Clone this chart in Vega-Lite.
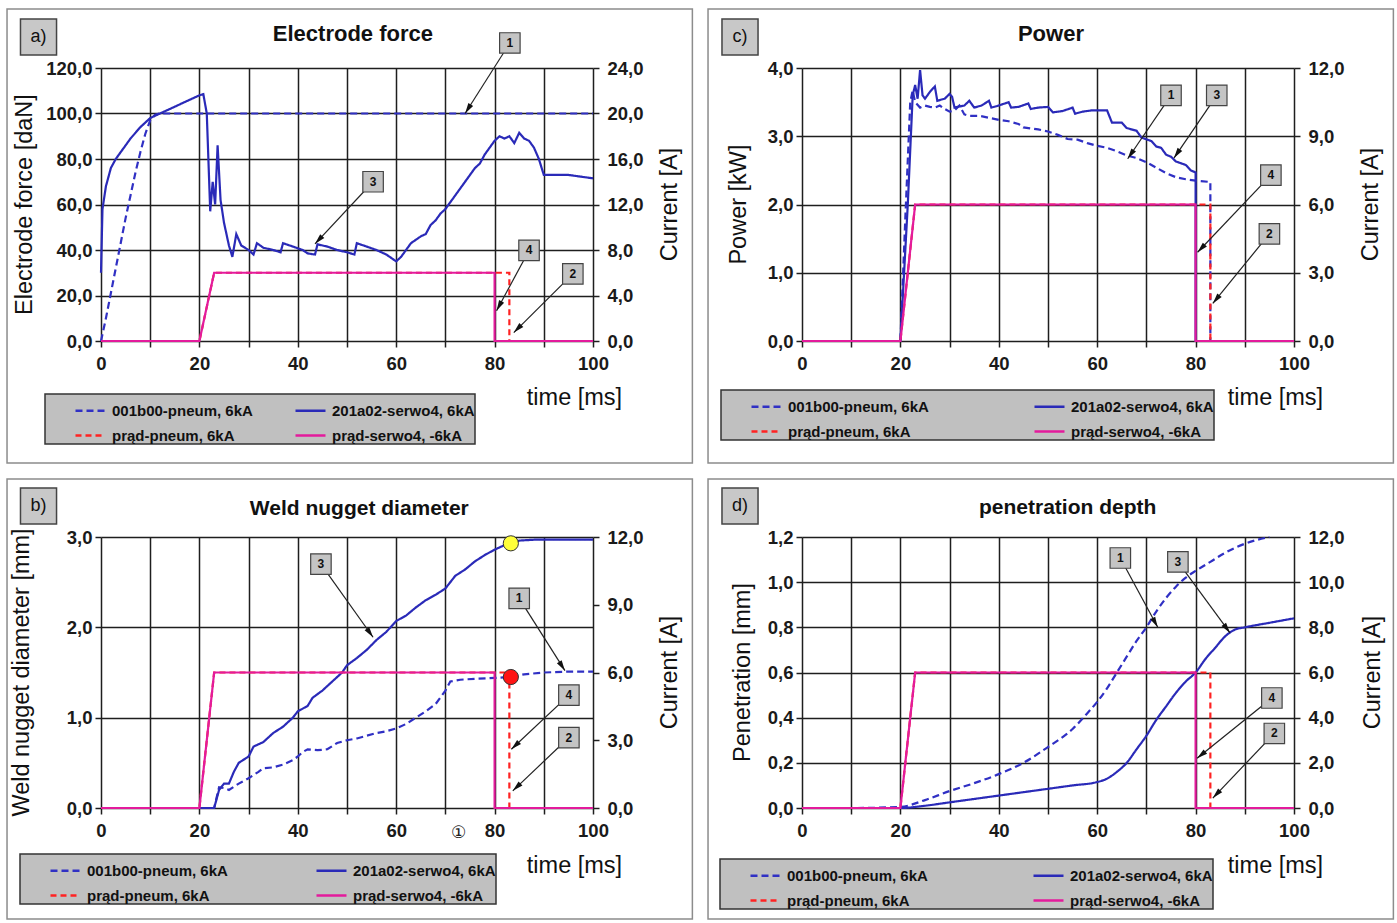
{
"$schema": "https://vega.github.io/schema/vega-lite/v6.json",
"background": "white",
"padding": {"left": 6, "top": 8, "right": 0, "bottom": 0},
"bounds": "flush",
"columns": 2,
"spacing": {"row": 196, "column": 209},
"resolve": {"scale": {"color": "independent", "strokeDash": "independent"}, "legend": {"color": "independent", "strokeDash": "independent"}},
"config": {
  "font": "Liberation Sans, Arial, sans-serif",
  "view": {"stroke": null},
  "axis": {"domain": false, "gridColor": "#1e1e1e", "gridWidth": 1.5, "gridOpacity": 1, "tickColor": "#1e1e1e", "tickSize": 6, "tickWidth": 1.5,
    "labelFontSize": 18.5, "labelFontWeight": "bold", "labelColor": "#1a1a1a", "labelOverlap": false, "labelFlush": false,
    "titleFontSize": 23.5, "titleFontWeight": "normal", "titleColor": "#111"},
  "legend": {"orient": "none", "direction": "horizontal", "columns": 2, "fillColor": "#c0c0c0", "strokeColor": "#333", "strokeWidth": 1.5, "padding": 0,
    "symbolType": "stroke", "symbolSize": 900, "symbolStrokeWidth": 2.5, "symbolOffset": 29,
    "labelFontSize": 15, "labelFontWeight": "bold", "labelColor": "#111", "labelOffset": 5, "labelLimit": 400, "rowPadding": -8}
},
"datasets": {
  "cur": [
    {"s":"prąd-pneum, 6kA","t":0,"v":0},{"s":"prąd-pneum, 6kA","t":20,"v":0},{"s":"prąd-pneum, 6kA","t":23,"v":6},{"s":"prąd-pneum, 6kA","t":83,"v":6},{"s":"prąd-pneum, 6kA","t":83,"v":0},{"s":"prąd-pneum, 6kA","t":100,"v":0},
    {"s":"prąd-serwo4, -6kA","t":0,"v":0},{"s":"prąd-serwo4, -6kA","t":20,"v":0},{"s":"prąd-serwo4, -6kA","t":23,"v":6},{"s":"prąd-serwo4, -6kA","t":80,"v":6},{"s":"prąd-serwo4, -6kA","t":80,"v":0},{"s":"prąd-serwo4, -6kA","t":100,"v":0}
  ],
  "a": [
    {"s":"001b00-pneum, 6kA","t":0,"v":0},{"s":"001b00-pneum, 6kA","t":1,"v":10},{"s":"001b00-pneum, 6kA","t":2,"v":21},{"s":"001b00-pneum, 6kA","t":3,"v":32},{"s":"001b00-pneum, 6kA","t":4,"v":43},{"s":"001b00-pneum, 6kA","t":5,"v":54},{"s":"001b00-pneum, 6kA","t":6,"v":64},{"s":"001b00-pneum, 6kA","t":7,"v":74},{"s":"001b00-pneum, 6kA","t":8,"v":83},{"s":"001b00-pneum, 6kA","t":9,"v":91},{"s":"001b00-pneum, 6kA","t":10,"v":97},{"s":"001b00-pneum, 6kA","t":11,"v":99.5},{"s":"001b00-pneum, 6kA","t":12,"v":100},{"s":"001b00-pneum, 6kA","t":100,"v":100},
    {"s":"201a02-serwo4, 6kA","t":0,"v":30},{"s":"201a02-serwo4, 6kA","t":0.3,"v":58},{"s":"201a02-serwo4, 6kA","t":1,"v":68},{"s":"201a02-serwo4, 6kA","t":2,"v":76},{"s":"201a02-serwo4, 6kA","t":3,"v":80},{"s":"201a02-serwo4, 6kA","t":4,"v":83},{"s":"201a02-serwo4, 6kA","t":5,"v":86},{"s":"201a02-serwo4, 6kA","t":6,"v":89},{"s":"201a02-serwo4, 6kA","t":7,"v":91.5},{"s":"201a02-serwo4, 6kA","t":8,"v":94},{"s":"201a02-serwo4, 6kA","t":9,"v":96},{"s":"201a02-serwo4, 6kA","t":10,"v":98},{"s":"201a02-serwo4, 6kA","t":12,"v":100},{"s":"201a02-serwo4, 6kA","t":14,"v":102},{"s":"201a02-serwo4, 6kA","t":16,"v":104},{"s":"201a02-serwo4, 6kA","t":18,"v":106},{"s":"201a02-serwo4, 6kA","t":20,"v":108},{"s":"201a02-serwo4, 6kA","t":20.8,"v":108.5},{"s":"201a02-serwo4, 6kA","t":21.5,"v":100},{"s":"201a02-serwo4, 6kA","t":22.2,"v":57},{"s":"201a02-serwo4, 6kA","t":22.7,"v":70},{"s":"201a02-serwo4, 6kA","t":23.2,"v":60},{"s":"201a02-serwo4, 6kA","t":23.7,"v":86},{"s":"201a02-serwo4, 6kA","t":24.3,"v":62},{"s":"201a02-serwo4, 6kA","t":25,"v":52},{"s":"201a02-serwo4, 6kA","t":26,"v":42},{"s":"201a02-serwo4, 6kA","t":26.7,"v":37},{"s":"201a02-serwo4, 6kA","t":27.5,"v":47},{"s":"201a02-serwo4, 6kA","t":28.5,"v":42},{"s":"201a02-serwo4, 6kA","t":30,"v":40},{"s":"201a02-serwo4, 6kA","t":31,"v":38},{"s":"201a02-serwo4, 6kA","t":31.7,"v":43},{"s":"201a02-serwo4, 6kA","t":33,"v":41},{"s":"201a02-serwo4, 6kA","t":35,"v":40},{"s":"201a02-serwo4, 6kA","t":36.5,"v":39},{"s":"201a02-serwo4, 6kA","t":37,"v":43},{"s":"201a02-serwo4, 6kA","t":39,"v":41.5},{"s":"201a02-serwo4, 6kA","t":41,"v":40},{"s":"201a02-serwo4, 6kA","t":42,"v":38.5},{"s":"201a02-serwo4, 6kA","t":43.5,"v":38},{"s":"201a02-serwo4, 6kA","t":44,"v":42.5},{"s":"201a02-serwo4, 6kA","t":46,"v":41.5},{"s":"201a02-serwo4, 6kA","t":48,"v":40},{"s":"201a02-serwo4, 6kA","t":50,"v":39},{"s":"201a02-serwo4, 6kA","t":51.5,"v":38},{"s":"201a02-serwo4, 6kA","t":52,"v":43},{"s":"201a02-serwo4, 6kA","t":54,"v":41.5},{"s":"201a02-serwo4, 6kA","t":56,"v":40},{"s":"201a02-serwo4, 6kA","t":58,"v":38},{"s":"201a02-serwo4, 6kA","t":60,"v":35},{"s":"201a02-serwo4, 6kA","t":61,"v":37},{"s":"201a02-serwo4, 6kA","t":62,"v":40},{"s":"201a02-serwo4, 6kA","t":63,"v":43},{"s":"201a02-serwo4, 6kA","t":65,"v":46},{"s":"201a02-serwo4, 6kA","t":66,"v":47},{"s":"201a02-serwo4, 6kA","t":67,"v":51},{"s":"201a02-serwo4, 6kA","t":68,"v":53},{"s":"201a02-serwo4, 6kA","t":69,"v":56},{"s":"201a02-serwo4, 6kA","t":70,"v":58},{"s":"201a02-serwo4, 6kA","t":71,"v":61},{"s":"201a02-serwo4, 6kA","t":72,"v":64},{"s":"201a02-serwo4, 6kA","t":73,"v":67},{"s":"201a02-serwo4, 6kA","t":74,"v":70},{"s":"201a02-serwo4, 6kA","t":75,"v":73},{"s":"201a02-serwo4, 6kA","t":76,"v":76},{"s":"201a02-serwo4, 6kA","t":77,"v":78},{"s":"201a02-serwo4, 6kA","t":78,"v":82},{"s":"201a02-serwo4, 6kA","t":79,"v":85},{"s":"201a02-serwo4, 6kA","t":80,"v":88},{"s":"201a02-serwo4, 6kA","t":81,"v":90},{"s":"201a02-serwo4, 6kA","t":82,"v":89},{"s":"201a02-serwo4, 6kA","t":83,"v":90},{"s":"201a02-serwo4, 6kA","t":84,"v":87},{"s":"201a02-serwo4, 6kA","t":85,"v":91.5},{"s":"201a02-serwo4, 6kA","t":86,"v":89},{"s":"201a02-serwo4, 6kA","t":87,"v":88},{"s":"201a02-serwo4, 6kA","t":88,"v":85},{"s":"201a02-serwo4, 6kA","t":89,"v":80},{"s":"201a02-serwo4, 6kA","t":90,"v":73},{"s":"201a02-serwo4, 6kA","t":95,"v":73},{"s":"201a02-serwo4, 6kA","t":100,"v":71.5}
  ],
  "c": [
    {"s":"001b00-pneum, 6kA","t":0,"v":0},{"s":"001b00-pneum, 6kA","t":20,"v":0},{"s":"001b00-pneum, 6kA","t":21,"v":1.8},{"s":"001b00-pneum, 6kA","t":22,"v":3.5},{"s":"001b00-pneum, 6kA","t":22.5,"v":3.67},{"s":"001b00-pneum, 6kA","t":23,"v":3.5},{"s":"001b00-pneum, 6kA","t":24,"v":3.42},{"s":"001b00-pneum, 6kA","t":25,"v":3.45},{"s":"001b00-pneum, 6kA","t":26,"v":3.43},{"s":"001b00-pneum, 6kA","t":27,"v":3.42},{"s":"001b00-pneum, 6kA","t":28,"v":3.45},{"s":"001b00-pneum, 6kA","t":29,"v":3.4},{"s":"001b00-pneum, 6kA","t":30,"v":3.36},{"s":"001b00-pneum, 6kA","t":31,"v":3.38},{"s":"001b00-pneum, 6kA","t":32,"v":3.45},{"s":"001b00-pneum, 6kA","t":33,"v":3.32},{"s":"001b00-pneum, 6kA","t":34,"v":3.3},{"s":"001b00-pneum, 6kA","t":36,"v":3.3},{"s":"001b00-pneum, 6kA","t":38,"v":3.27},{"s":"001b00-pneum, 6kA","t":40,"v":3.24},{"s":"001b00-pneum, 6kA","t":42,"v":3.22},{"s":"001b00-pneum, 6kA","t":44,"v":3.18},{"s":"001b00-pneum, 6kA","t":45,"v":3.13},{"s":"001b00-pneum, 6kA","t":48,"v":3.1},{"s":"001b00-pneum, 6kA","t":50,"v":3.07},{"s":"001b00-pneum, 6kA","t":52,"v":3.02},{"s":"001b00-pneum, 6kA","t":54,"v":2.96},{"s":"001b00-pneum, 6kA","t":56,"v":2.95},{"s":"001b00-pneum, 6kA","t":58,"v":2.9},{"s":"001b00-pneum, 6kA","t":60,"v":2.86},{"s":"001b00-pneum, 6kA","t":62,"v":2.83},{"s":"001b00-pneum, 6kA","t":64,"v":2.78},{"s":"001b00-pneum, 6kA","t":66,"v":2.72},{"s":"001b00-pneum, 6kA","t":68,"v":2.68},{"s":"001b00-pneum, 6kA","t":70,"v":2.62},{"s":"001b00-pneum, 6kA","t":72,"v":2.54},{"s":"001b00-pneum, 6kA","t":74,"v":2.46},{"s":"001b00-pneum, 6kA","t":76,"v":2.4},{"s":"001b00-pneum, 6kA","t":78,"v":2.37},{"s":"001b00-pneum, 6kA","t":80,"v":2.35},{"s":"001b00-pneum, 6kA","t":83,"v":2.33},{"s":"001b00-pneum, 6kA","t":83,"v":0},{"s":"001b00-pneum, 6kA","t":100,"v":0},
    {"s":"201a02-serwo4, 6kA","t":0,"v":0},{"s":"201a02-serwo4, 6kA","t":20,"v":0},{"s":"201a02-serwo4, 6kA","t":21.5,"v":2.0},{"s":"201a02-serwo4, 6kA","t":22.5,"v":3.6},{"s":"201a02-serwo4, 6kA","t":23,"v":3.75},{"s":"201a02-serwo4, 6kA","t":23.5,"v":3.55},{"s":"201a02-serwo4, 6kA","t":24,"v":3.97},{"s":"201a02-serwo4, 6kA","t":24.5,"v":3.6},{"s":"201a02-serwo4, 6kA","t":25,"v":3.55},{"s":"201a02-serwo4, 6kA","t":26,"v":3.65},{"s":"201a02-serwo4, 6kA","t":27,"v":3.73},{"s":"201a02-serwo4, 6kA","t":27.5,"v":3.52},{"s":"201a02-serwo4, 6kA","t":29,"v":3.55},{"s":"201a02-serwo4, 6kA","t":30,"v":3.62},{"s":"201a02-serwo4, 6kA","t":30.5,"v":3.58},{"s":"201a02-serwo4, 6kA","t":31,"v":3.42},{"s":"201a02-serwo4, 6kA","t":33,"v":3.45},{"s":"201a02-serwo4, 6kA","t":34,"v":3.52},{"s":"201a02-serwo4, 6kA","t":35,"v":3.42},{"s":"201a02-serwo4, 6kA","t":36.5,"v":3.45},{"s":"201a02-serwo4, 6kA","t":38,"v":3.52},{"s":"201a02-serwo4, 6kA","t":38.5,"v":3.42},{"s":"201a02-serwo4, 6kA","t":40,"v":3.45},{"s":"201a02-serwo4, 6kA","t":42,"v":3.5},{"s":"201a02-serwo4, 6kA","t":42.5,"v":3.42},{"s":"201a02-serwo4, 6kA","t":44,"v":3.43},{"s":"201a02-serwo4, 6kA","t":46,"v":3.48},{"s":"201a02-serwo4, 6kA","t":46.5,"v":3.4},{"s":"201a02-serwo4, 6kA","t":48,"v":3.42},{"s":"201a02-serwo4, 6kA","t":50,"v":3.43},{"s":"201a02-serwo4, 6kA","t":51,"v":3.35},{"s":"201a02-serwo4, 6kA","t":53,"v":3.37},{"s":"201a02-serwo4, 6kA","t":55,"v":3.42},{"s":"201a02-serwo4, 6kA","t":55.5,"v":3.33},{"s":"201a02-serwo4, 6kA","t":57,"v":3.36},{"s":"201a02-serwo4, 6kA","t":59,"v":3.38},{"s":"201a02-serwo4, 6kA","t":62,"v":3.38},{"s":"201a02-serwo4, 6kA","t":63,"v":3.2},{"s":"201a02-serwo4, 6kA","t":65,"v":3.2},{"s":"201a02-serwo4, 6kA","t":66,"v":3.12},{"s":"201a02-serwo4, 6kA","t":68,"v":3.08},{"s":"201a02-serwo4, 6kA","t":69,"v":2.98},{"s":"201a02-serwo4, 6kA","t":71,"v":2.93},{"s":"201a02-serwo4, 6kA","t":72,"v":2.85},{"s":"201a02-serwo4, 6kA","t":73,"v":2.83},{"s":"201a02-serwo4, 6kA","t":74,"v":2.73},{"s":"201a02-serwo4, 6kA","t":75,"v":2.7},{"s":"201a02-serwo4, 6kA","t":76,"v":2.63},{"s":"201a02-serwo4, 6kA","t":78,"v":2.58},{"s":"201a02-serwo4, 6kA","t":79,"v":2.5},{"s":"201a02-serwo4, 6kA","t":80,"v":2.47},{"s":"201a02-serwo4, 6kA","t":80,"v":0},{"s":"201a02-serwo4, 6kA","t":100,"v":0}
  ],
  "b": [
    {"s":"001b00-pneum, 6kA","t":0,"v":0},{"s":"001b00-pneum, 6kA","t":23,"v":0},{"s":"001b00-pneum, 6kA","t":24,"v":0.23},{"s":"001b00-pneum, 6kA","t":25,"v":0.22},{"s":"001b00-pneum, 6kA","t":26,"v":0.2},{"s":"001b00-pneum, 6kA","t":28,"v":0.27},{"s":"001b00-pneum, 6kA","t":30,"v":0.33},{"s":"001b00-pneum, 6kA","t":32,"v":0.4},{"s":"001b00-pneum, 6kA","t":33,"v":0.44},{"s":"001b00-pneum, 6kA","t":35,"v":0.45},{"s":"001b00-pneum, 6kA","t":37,"v":0.48},{"s":"001b00-pneum, 6kA","t":39,"v":0.53},{"s":"001b00-pneum, 6kA","t":40,"v":0.57},{"s":"001b00-pneum, 6kA","t":41,"v":0.62},{"s":"001b00-pneum, 6kA","t":42,"v":0.65},{"s":"001b00-pneum, 6kA","t":44,"v":0.64},{"s":"001b00-pneum, 6kA","t":46,"v":0.65},{"s":"001b00-pneum, 6kA","t":48,"v":0.72},{"s":"001b00-pneum, 6kA","t":50,"v":0.75},{"s":"001b00-pneum, 6kA","t":52,"v":0.77},{"s":"001b00-pneum, 6kA","t":54,"v":0.8},{"s":"001b00-pneum, 6kA","t":56,"v":0.83},{"s":"001b00-pneum, 6kA","t":58,"v":0.85},{"s":"001b00-pneum, 6kA","t":60,"v":0.88},{"s":"001b00-pneum, 6kA","t":62,"v":0.93},{"s":"001b00-pneum, 6kA","t":64,"v":1.0},{"s":"001b00-pneum, 6kA","t":66,"v":1.07},{"s":"001b00-pneum, 6kA","t":68,"v":1.15},{"s":"001b00-pneum, 6kA","t":70,"v":1.3},{"s":"001b00-pneum, 6kA","t":71,"v":1.4},{"s":"001b00-pneum, 6kA","t":73,"v":1.42},{"s":"001b00-pneum, 6kA","t":76,"v":1.43},{"s":"001b00-pneum, 6kA","t":80,"v":1.44},{"s":"001b00-pneum, 6kA","t":83.3,"v":1.45},{"s":"001b00-pneum, 6kA","t":86,"v":1.48},{"s":"001b00-pneum, 6kA","t":90,"v":1.5},{"s":"001b00-pneum, 6kA","t":95,"v":1.51},{"s":"001b00-pneum, 6kA","t":100,"v":1.51},
    {"s":"201a02-serwo4, 6kA","t":0,"v":0},{"s":"201a02-serwo4, 6kA","t":23,"v":0},{"s":"201a02-serwo4, 6kA","t":24,"v":0.2},{"s":"201a02-serwo4, 6kA","t":25,"v":0.27},{"s":"201a02-serwo4, 6kA","t":26,"v":0.27},{"s":"201a02-serwo4, 6kA","t":27,"v":0.4},{"s":"201a02-serwo4, 6kA","t":28,"v":0.5},{"s":"201a02-serwo4, 6kA","t":30,"v":0.57},{"s":"201a02-serwo4, 6kA","t":31,"v":0.68},{"s":"201a02-serwo4, 6kA","t":33,"v":0.73},{"s":"201a02-serwo4, 6kA","t":35,"v":0.83},{"s":"201a02-serwo4, 6kA","t":37,"v":0.9},{"s":"201a02-serwo4, 6kA","t":39,"v":1.0},{"s":"201a02-serwo4, 6kA","t":40,"v":1.07},{"s":"201a02-serwo4, 6kA","t":42,"v":1.13},{"s":"201a02-serwo4, 6kA","t":43,"v":1.22},{"s":"201a02-serwo4, 6kA","t":45,"v":1.3},{"s":"201a02-serwo4, 6kA","t":47,"v":1.4},{"s":"201a02-serwo4, 6kA","t":49,"v":1.5},{"s":"201a02-serwo4, 6kA","t":50,"v":1.58},{"s":"201a02-serwo4, 6kA","t":52,"v":1.66},{"s":"201a02-serwo4, 6kA","t":54,"v":1.75},{"s":"201a02-serwo4, 6kA","t":56,"v":1.86},{"s":"201a02-serwo4, 6kA","t":58,"v":1.95},{"s":"201a02-serwo4, 6kA","t":60,"v":2.07},{"s":"201a02-serwo4, 6kA","t":62,"v":2.13},{"s":"201a02-serwo4, 6kA","t":64,"v":2.22},{"s":"201a02-serwo4, 6kA","t":66,"v":2.3},{"s":"201a02-serwo4, 6kA","t":68,"v":2.36},{"s":"201a02-serwo4, 6kA","t":70,"v":2.43},{"s":"201a02-serwo4, 6kA","t":72,"v":2.57},{"s":"201a02-serwo4, 6kA","t":74,"v":2.64},{"s":"201a02-serwo4, 6kA","t":76,"v":2.73},{"s":"201a02-serwo4, 6kA","t":78,"v":2.8},{"s":"201a02-serwo4, 6kA","t":80,"v":2.86},{"s":"201a02-serwo4, 6kA","t":82,"v":2.91},{"s":"201a02-serwo4, 6kA","t":83.3,"v":2.93},{"s":"201a02-serwo4, 6kA","t":85,"v":2.96},{"s":"201a02-serwo4, 6kA","t":88,"v":2.97},{"s":"201a02-serwo4, 6kA","t":100,"v":2.97}
  ],
  "d": [
    {"s":"001b00-pneum, 6kA","t":0,"v":0},{"s":"001b00-pneum, 6kA","t":10,"v":0},{"s":"001b00-pneum, 6kA","t":20,"v":0.005},{"s":"001b00-pneum, 6kA","t":25,"v":0.035},{"s":"001b00-pneum, 6kA","t":30,"v":0.075},{"s":"001b00-pneum, 6kA","t":35,"v":0.11},{"s":"001b00-pneum, 6kA","t":40,"v":0.15},{"s":"001b00-pneum, 6kA","t":45,"v":0.2},{"s":"001b00-pneum, 6kA","t":50,"v":0.27},{"s":"001b00-pneum, 6kA","t":55,"v":0.35},{"s":"001b00-pneum, 6kA","t":58,"v":0.42},{"s":"001b00-pneum, 6kA","t":60,"v":0.47},{"s":"001b00-pneum, 6kA","t":62,"v":0.53},{"s":"001b00-pneum, 6kA","t":64,"v":0.6},{"s":"001b00-pneum, 6kA","t":66,"v":0.67},{"s":"001b00-pneum, 6kA","t":68,"v":0.74},{"s":"001b00-pneum, 6kA","t":70,"v":0.8},{"s":"001b00-pneum, 6kA","t":72,"v":0.87},{"s":"001b00-pneum, 6kA","t":74,"v":0.93},{"s":"001b00-pneum, 6kA","t":76,"v":0.98},{"s":"001b00-pneum, 6kA","t":78,"v":1.02},{"s":"001b00-pneum, 6kA","t":80,"v":1.05},{"s":"001b00-pneum, 6kA","t":83,"v":1.09},{"s":"001b00-pneum, 6kA","t":86,"v":1.13},{"s":"001b00-pneum, 6kA","t":90,"v":1.17},{"s":"001b00-pneum, 6kA","t":95,"v":1.2},
    {"s":"201a02-serwo4, 6kA","t":0,"v":0},{"s":"201a02-serwo4, 6kA","t":20,"v":0},{"s":"201a02-serwo4, 6kA","t":25,"v":0.01},{"s":"201a02-serwo4, 6kA","t":30,"v":0.025},{"s":"201a02-serwo4, 6kA","t":35,"v":0.04},{"s":"201a02-serwo4, 6kA","t":40,"v":0.055},{"s":"201a02-serwo4, 6kA","t":45,"v":0.07},{"s":"201a02-serwo4, 6kA","t":50,"v":0.085},{"s":"201a02-serwo4, 6kA","t":55,"v":0.1},{"s":"201a02-serwo4, 6kA","t":60,"v":0.115},{"s":"201a02-serwo4, 6kA","t":62,"v":0.13},{"s":"201a02-serwo4, 6kA","t":64,"v":0.16},{"s":"201a02-serwo4, 6kA","t":66,"v":0.2},{"s":"201a02-serwo4, 6kA","t":68,"v":0.26},{"s":"201a02-serwo4, 6kA","t":70,"v":0.32},{"s":"201a02-serwo4, 6kA","t":72,"v":0.39},{"s":"201a02-serwo4, 6kA","t":74,"v":0.45},{"s":"201a02-serwo4, 6kA","t":76,"v":0.51},{"s":"201a02-serwo4, 6kA","t":78,"v":0.56},{"s":"201a02-serwo4, 6kA","t":80,"v":0.6},{"s":"201a02-serwo4, 6kA","t":82,"v":0.66},{"s":"201a02-serwo4, 6kA","t":84,"v":0.71},{"s":"201a02-serwo4, 6kA","t":86,"v":0.76},{"s":"201a02-serwo4, 6kA","t":88,"v":0.79},{"s":"201a02-serwo4, 6kA","t":90,"v":0.8},{"s":"201a02-serwo4, 6kA","t":95,"v":0.82},{"s":"201a02-serwo4, 6kA","t":100,"v":0.84}
  ],
  "callouts": [
    {"p":"a","n":"1","bx":83.1,"by":131,"tx":74,"ty":100},{"p":"a","n":"3","bx":55.3,"by":70,"tx":43.5,"ty":42.7},{"p":"a","n":"4","bx":87,"by":39.8,"tx":80.4,"ty":13.3},{"p":"a","n":"2","bx":95.9,"by":29.5,"tx":83.9,"ty":3.7},
    {"p":"c","n":"1","bx":75,"by":3.6,"tx":66.2,"ty":2.67},{"p":"c","n":"3","bx":84.3,"by":3.6,"tx":75.6,"ty":2.68},{"p":"c","n":"4","bx":95.3,"by":2.43,"tx":80.4,"ty":1.3},{"p":"c","n":"2","bx":95,"by":1.57,"tx":83.5,"ty":0.55},
    {"p":"b","n":"3","bx":44.7,"by":2.7,"tx":55.3,"ty":1.89},{"p":"b","n":"1","bx":85,"by":2.32,"tx":94.3,"ty":1.52},{"p":"b","n":"4","bx":95.1,"by":1.25,"tx":83.4,"ty":0.65},{"p":"b","n":"2","bx":95.1,"by":0.78,"tx":83.7,"ty":0.19},
    {"p":"d","n":"1","bx":64.7,"by":1.107,"tx":72.3,"ty":0.8},{"p":"d","n":"3","bx":76.4,"by":1.09,"tx":87,"ty":0.775},{"p":"d","n":"4","bx":95.5,"by":0.487,"tx":80.3,"ty":0.22},{"p":"d","n":"2","bx":96,"by":0.33,"tx":83.5,"ty":0.044}
  ],
  "dots": [{"k":"serwo","t":83.3,"v":2.93},{"k":"pneum","t":83.3,"v":1.45}]
},
"concat": [
 {
  "width": 492, "height": 273,
  "resolve": {"scale": {"y": "independent"}},
  "layer": [
   {"layer": [
     {"data": {"values": [{}]}, "mark": {"type": "rect", "fillOpacity": 0, "stroke": "#8c8c8c", "strokeWidth": 1.5, "clip": false},
      "encoding": {
        "x": {"datum": -19.1, "type": "quantitative", "scale": {"domain": [0,100], "nice": false, "zero": false},
              "axis": {"values": [0,10,20,30,40,50,60,70,80,90,100], "labelExpr": "datum.value % 20 === 0 ? datum.label : ''", "grid": true, "title": "time [ms]", "titleX": 473, "titleY": 56, "titleAlign": "center", "titleBaseline": "middle", "titleAngle": 0, "labelPadding": 7}},
        "x2": {"datum": 120.2},
        "y": {"datum": 145.9, "type": "quantitative", "scale": {"domain": [0,120], "nice": false, "zero": false},
              "axis": {"values": [0,10,20,30,40,50,60,70,80,90,100,110,120], "labelExpr": "datum.value % 20 === 0 ? replace(format(datum.value, '.1f'), '.', ',') : ''", "grid": true, "title": "Electrode force [daN]", "titleX": -77, "titleY": 136, "titleAngle": -90, "titleAlign": "center", "titleBaseline": "middle", "labelPadding": 3}},
        "y2": {"datum": -53.6}}},
     {"data": {"name": "a"}, "mark": {"type": "line", "strokeWidth": 2.2, "clip": false},
      "encoding": {
        "x": {"field": "t", "type": "quantitative", "scale": {"domain": [0,100], "nice": false, "zero": false}},
        "y": {"field": "v", "type": "quantitative", "scale": {"domain": [0,120], "nice": false, "zero": false}},
        "color": {"field": "s", "type": "nominal", "scale": {"domain": ["001b00-pneum, 6kA","201a02-serwo4, 6kA","prąd-pneum, 6kA","prąd-serwo4, -6kA"], "range": ["#3030c4","#2a2ab8","#ff2222","#e31b9c"]}, "legend": {"title": null, "legendX": -56, "legendY": 326, "columnPadding": 12}},
        "strokeDash": {"field": "s", "type": "nominal", "scale": {"domain": ["001b00-pneum, 6kA","201a02-serwo4, 6kA","prąd-pneum, 6kA","prąd-serwo4, -6kA"], "range": [[7,4],[1,0],[6,4],[1,0]]}, "legend": {"title": null, "legendX": -56, "legendY": 326, "columnPadding": 12}}}}
   ]},
   {"data": {"name": "cur"}, "mark": {"type": "line", "strokeWidth": 2.2, "clip": false},
    "encoding": {
      "x": {"field": "t", "type": "quantitative", "scale": {"domain": [0,100], "nice": false, "zero": false}},
      "y": {"field": "v", "type": "quantitative", "scale": {"domain": [0,24], "nice": false, "zero": false},
            "axis": {"orient": "right", "values": [0,4,8,12,16,20,24], "labelExpr": "replace(format(datum.value, '.1f'), '.', ',')", "grid": false, "title": "Current [A]", "titleX": 76, "titleY": 136, "titleAngle": -90, "titleAlign": "center", "titleBaseline": "middle", "labelPadding": 8}},
      "color": {"field": "s", "type": "nominal", "scale": {"domain": ["001b00-pneum, 6kA","201a02-serwo4, 6kA","prąd-pneum, 6kA","prąd-serwo4, -6kA"], "range": ["#3030c4","#2a2ab8","#ff2222","#e31b9c"]}, "legend": {"title": null, "legendX": -56, "legendY": 326, "columnPadding": 12}},
      "strokeDash": {"field": "s", "type": "nominal", "scale": {"domain": ["001b00-pneum, 6kA","201a02-serwo4, 6kA","prąd-pneum, 6kA","prąd-serwo4, -6kA"], "range": [[7,4],[1,0],[6,4],[1,0]]}, "legend": {"title": null, "legendX": -56, "legendY": 326, "columnPadding": 12}}}},
   {"layer": [
     {"data": {"name": "callouts"}, "transform": [{"filter": "datum.p === 'a'"}], "mark": {"type": "rule", "color": "#222", "strokeWidth": 1.2},
      "encoding": {"x": {"field": "bx", "type": "quantitative", "scale": {"domain": [0,100], "nice": false, "zero": false}}, "y": {"field": "by", "type": "quantitative", "scale": {"domain": [0,120], "nice": false, "zero": false}, "axis": null}, "x2": {"field": "tx"}, "y2": {"field": "ty"}}},
     {"data": {"name": "callouts"}, "transform": [{"filter": "datum.p === 'a'"}, {"calculate": "atan2((datum.tx - datum.bx) * 4.92, (datum.ty - datum.by) * 2.275) * 180 / PI", "as": "ang"}], "mark": {"type": "point", "shape": "M0,0L0.4,1.5L-0.4,1.5Z", "size": 200, "filled": true, "color": "#111", "opacity": 1},
      "encoding": {"x": {"field": "tx", "type": "quantitative", "scale": {"domain": [0,100], "nice": false, "zero": false}}, "y": {"field": "ty", "type": "quantitative", "scale": {"domain": [0,120], "nice": false, "zero": false}, "axis": null}, "angle": {"field": "ang", "type": "quantitative", "scale": null}}},
     {"data": {"name": "callouts"}, "transform": [{"filter": "datum.p === 'a'"}], "mark": {"type": "point", "shape": "square", "size": 420, "filled": true, "fill": "#c4c4c4", "stroke": "#444", "strokeWidth": 1.2, "opacity": 1},
      "encoding": {"x": {"field": "bx", "type": "quantitative", "scale": {"domain": [0,100], "nice": false, "zero": false}}, "y": {"field": "by", "type": "quantitative", "scale": {"domain": [0,120], "nice": false, "zero": false}, "axis": null}}},
     {"data": {"name": "callouts"}, "transform": [{"filter": "datum.p === 'a'"}], "mark": {"type": "text", "fontSize": 12, "fontWeight": "bold", "color": "#111"},
      "encoding": {"x": {"field": "bx", "type": "quantitative", "scale": {"domain": [0,100], "nice": false, "zero": false}}, "y": {"field": "by", "type": "quantitative", "scale": {"domain": [0,120], "nice": false, "zero": false}, "axis": null}, "text": {"field": "n"}}},
     {"data": {"values": [{}]}, "mark": {"type": "point", "shape": "square", "size": 1300, "filled": true, "fill": "#c8c8c8", "stroke": "#444", "strokeWidth": 1.5, "opacity": 1, "clip": false},
      "encoding": {"x": {"datum": -12.7, "type": "quantitative", "scale": {"domain": [0,100], "nice": false, "zero": false}}, "y": {"datum": 133.6, "type": "quantitative", "scale": {"domain": [0,120], "nice": false, "zero": false}, "axis": null}}},
     {"data": {"values": [{}]}, "mark": {"type": "text", "text": "a)", "fontSize": 18, "color": "#111", "clip": false},
      "encoding": {"x": {"datum": -12.7, "type": "quantitative", "scale": {"domain": [0,100], "nice": false, "zero": false}}, "y": {"datum": 133.6, "type": "quantitative", "scale": {"domain": [0,120], "nice": false, "zero": false}, "axis": null}}},
     {"data": {"values": [{}]}, "mark": {"type": "text", "text": "Electrode force", "fontSize": 22, "fontWeight": "bold", "color": "#111", "clip": false},
      "encoding": {"x": {"datum": 51.2, "type": "quantitative", "scale": {"domain": [0,100], "nice": false, "zero": false}}, "y": {"datum": 134.9, "type": "quantitative", "scale": {"domain": [0,120], "nice": false, "zero": false}, "axis": null}}}
   ]}
  ]
 },
 {
  "width": 492, "height": 273,
  "resolve": {"scale": {"y": "independent"}},
  "layer": [
   {"layer": [
     {"data": {"values": [{}]}, "mark": {"type": "rect", "fillOpacity": 0, "stroke": "#8c8c8c", "strokeWidth": 1.5, "clip": false},
      "encoding": {
        "x": {"datum": -19.1, "type": "quantitative", "scale": {"domain": [0,100], "nice": false, "zero": false},
              "axis": {"values": [0,10,20,30,40,50,60,70,80,90,100], "labelExpr": "datum.value % 20 === 0 ? datum.label : ''", "grid": true, "title": "time [ms]", "titleX": 473, "titleY": 56, "titleAlign": "center", "titleBaseline": "middle", "titleAngle": 0, "labelPadding": 7}},
        "x2": {"datum": 120.2},
        "y": {"datum": 4.864, "type": "quantitative", "scale": {"domain": [0,4], "nice": false, "zero": false},
              "axis": {"values": [0,1,2,3,4], "labelExpr": "replace(format(datum.value, '.1f'), '.', ',')", "grid": true, "title": "Power [kW]", "titleX": -64, "titleY": 136, "titleAngle": -90, "titleAlign": "center", "titleBaseline": "middle", "labelPadding": 3}},
        "y2": {"datum": -1.788}}},
     {"data": {"name": "c"}, "mark": {"type": "line", "strokeWidth": 2.2, "clip": false},
      "encoding": {
        "x": {"field": "t", "type": "quantitative", "scale": {"domain": [0,100], "nice": false, "zero": false}},
        "y": {"field": "v", "type": "quantitative", "scale": {"domain": [0,4], "nice": false, "zero": false}},
        "color": {"field": "s", "type": "nominal", "scale": {"domain": ["001b00-pneum, 6kA","201a02-serwo4, 6kA","prąd-pneum, 6kA","prąd-serwo4, -6kA"], "range": ["#3030c4","#2a2ab8","#ff2222","#e31b9c"]}, "legend": {"title": null, "legendX": -81, "legendY": 322, "columnPadding": 75}},
        "strokeDash": {"field": "s", "type": "nominal", "scale": {"domain": ["001b00-pneum, 6kA","201a02-serwo4, 6kA","prąd-pneum, 6kA","prąd-serwo4, -6kA"], "range": [[7,4],[1,0],[6,4],[1,0]]}, "legend": {"title": null, "legendX": -81, "legendY": 322, "columnPadding": 75}}}}
   ]},
   {"data": {"name": "cur"}, "mark": {"type": "line", "strokeWidth": 2.2, "clip": false},
    "encoding": {
      "x": {"field": "t", "type": "quantitative", "scale": {"domain": [0,100], "nice": false, "zero": false}},
      "y": {"field": "v", "type": "quantitative", "scale": {"domain": [0,12], "nice": false, "zero": false},
            "axis": {"orient": "right", "values": [0,3,6,9,12], "labelExpr": "replace(format(datum.value, '.1f'), '.', ',')", "grid": false, "title": "Current [A]", "titleX": 76, "titleY": 136, "titleAngle": -90, "titleAlign": "center", "titleBaseline": "middle", "labelPadding": 8}},
      "color": {"field": "s", "type": "nominal", "scale": {"domain": ["001b00-pneum, 6kA","201a02-serwo4, 6kA","prąd-pneum, 6kA","prąd-serwo4, -6kA"], "range": ["#3030c4","#2a2ab8","#ff2222","#e31b9c"]}, "legend": {"title": null, "legendX": -81, "legendY": 322, "columnPadding": 75}},
      "strokeDash": {"field": "s", "type": "nominal", "scale": {"domain": ["001b00-pneum, 6kA","201a02-serwo4, 6kA","prąd-pneum, 6kA","prąd-serwo4, -6kA"], "range": [[7,4],[1,0],[6,4],[1,0]]}, "legend": {"title": null, "legendX": -81, "legendY": 322, "columnPadding": 75}}}},
   {"layer": [
     {"data": {"name": "callouts"}, "transform": [{"filter": "datum.p === 'c'"}], "mark": {"type": "rule", "color": "#222", "strokeWidth": 1.2},
      "encoding": {"x": {"field": "bx", "type": "quantitative", "scale": {"domain": [0,100], "nice": false, "zero": false}}, "y": {"field": "by", "type": "quantitative", "scale": {"domain": [0,4], "nice": false, "zero": false}, "axis": null}, "x2": {"field": "tx"}, "y2": {"field": "ty"}}},
     {"data": {"name": "callouts"}, "transform": [{"filter": "datum.p === 'c'"}, {"calculate": "atan2((datum.tx - datum.bx) * 4.92, (datum.ty - datum.by) * 68.25) * 180 / PI", "as": "ang"}], "mark": {"type": "point", "shape": "M0,0L0.4,1.5L-0.4,1.5Z", "size": 200, "filled": true, "color": "#111", "opacity": 1},
      "encoding": {"x": {"field": "tx", "type": "quantitative", "scale": {"domain": [0,100], "nice": false, "zero": false}}, "y": {"field": "ty", "type": "quantitative", "scale": {"domain": [0,4], "nice": false, "zero": false}, "axis": null}, "angle": {"field": "ang", "type": "quantitative", "scale": null}}},
     {"data": {"name": "callouts"}, "transform": [{"filter": "datum.p === 'c'"}], "mark": {"type": "point", "shape": "square", "size": 420, "filled": true, "fill": "#c4c4c4", "stroke": "#444", "strokeWidth": 1.2, "opacity": 1},
      "encoding": {"x": {"field": "bx", "type": "quantitative", "scale": {"domain": [0,100], "nice": false, "zero": false}}, "y": {"field": "by", "type": "quantitative", "scale": {"domain": [0,4], "nice": false, "zero": false}, "axis": null}}},
     {"data": {"name": "callouts"}, "transform": [{"filter": "datum.p === 'c'"}], "mark": {"type": "text", "fontSize": 12, "fontWeight": "bold", "color": "#111"},
      "encoding": {"x": {"field": "bx", "type": "quantitative", "scale": {"domain": [0,100], "nice": false, "zero": false}}, "y": {"field": "by", "type": "quantitative", "scale": {"domain": [0,4], "nice": false, "zero": false}, "axis": null}, "text": {"field": "n"}}},
     {"data": {"values": [{}]}, "mark": {"type": "point", "shape": "square", "size": 1300, "filled": true, "fill": "#c8c8c8", "stroke": "#444", "strokeWidth": 1.5, "opacity": 1, "clip": false},
      "encoding": {"x": {"datum": -12.6, "type": "quantitative", "scale": {"domain": [0,100], "nice": false, "zero": false}}, "y": {"datum": 4.454, "type": "quantitative", "scale": {"domain": [0,4], "nice": false, "zero": false}, "axis": null}}},
     {"data": {"values": [{}]}, "mark": {"type": "text", "text": "c)", "fontSize": 18, "color": "#111", "clip": false},
      "encoding": {"x": {"datum": -12.6, "type": "quantitative", "scale": {"domain": [0,100], "nice": false, "zero": false}}, "y": {"datum": 4.454, "type": "quantitative", "scale": {"domain": [0,4], "nice": false, "zero": false}, "axis": null}}},
     {"data": {"values": [{}]}, "mark": {"type": "text", "text": "Power", "fontSize": 22, "fontWeight": "bold", "color": "#111", "clip": false},
      "encoding": {"x": {"datum": 50.6, "type": "quantitative", "scale": {"domain": [0,100], "nice": false, "zero": false}}, "y": {"datum": 4.5, "type": "quantitative", "scale": {"domain": [0,4], "nice": false, "zero": false}, "axis": null}}}
   ]}
  ]
 },
 {
  "width": 492, "height": 271,
  "resolve": {"scale": {"y": "independent"}},
  "layer": [
   {"layer": [
     {"data": {"values": [{}]}, "mark": {"type": "rect", "fillOpacity": 0, "stroke": "#8c8c8c", "strokeWidth": 1.5, "clip": false},
      "encoding": {
        "x": {"datum": -19.1, "type": "quantitative", "scale": {"domain": [0,100], "nice": false, "zero": false},
              "axis": {"values": [0,10,20,30,40,50,60,70,80,90,100], "labelExpr": "datum.value % 20 === 0 ? datum.label : ''", "grid": true, "title": "time [ms]", "titleX": 473, "titleY": 57, "titleAlign": "center", "titleBaseline": "middle", "titleAngle": 0, "labelPadding": 7}},
        "x2": {"datum": 120.2},
        "y": {"datum": 3.642, "type": "quantitative", "scale": {"domain": [0,3], "nice": false, "zero": false},
              "axis": {"values": [0,1,2,3], "labelExpr": "replace(format(datum.value, '.1f'), '.', ',')", "grid": true, "title": "Weld nugget diameter [mm]", "titleX": -80, "titleY": 135, "titleAngle": -90, "titleAlign": "center", "titleBaseline": "middle", "labelPadding": 3}},
        "y2": {"datum": -1.229}}},
     {"data": {"name": "b"}, "mark": {"type": "line", "strokeWidth": 2.2, "clip": false},
      "encoding": {
        "x": {"field": "t", "type": "quantitative", "scale": {"domain": [0,100], "nice": false, "zero": false}},
        "y": {"field": "v", "type": "quantitative", "scale": {"domain": [0,3], "nice": false, "zero": false}},
        "color": {"field": "s", "type": "nominal", "scale": {"domain": ["001b00-pneum, 6kA","201a02-serwo4, 6kA","prąd-pneum, 6kA","prąd-serwo4, -6kA"], "range": ["#3030c4","#2a2ab8","#ff2222","#e31b9c"]}, "legend": {"title": null, "legendX": -81, "legendY": 317, "columnPadding": 58}},
        "strokeDash": {"field": "s", "type": "nominal", "scale": {"domain": ["001b00-pneum, 6kA","201a02-serwo4, 6kA","prąd-pneum, 6kA","prąd-serwo4, -6kA"], "range": [[7,4],[1,0],[6,4],[1,0]]}, "legend": {"title": null, "legendX": -81, "legendY": 317, "columnPadding": 58}}}}
   ]},
   {"data": {"name": "cur"}, "mark": {"type": "line", "strokeWidth": 2.2, "clip": false},
    "encoding": {
      "x": {"field": "t", "type": "quantitative", "scale": {"domain": [0,100], "nice": false, "zero": false}},
      "y": {"field": "v", "type": "quantitative", "scale": {"domain": [0,12], "nice": false, "zero": false},
            "axis": {"orient": "right", "values": [0,3,6,9,12], "labelExpr": "replace(format(datum.value, '.1f'), '.', ',')", "grid": false, "title": "Current [A]", "titleX": 76, "titleY": 135, "titleAngle": -90, "titleAlign": "center", "titleBaseline": "middle", "labelPadding": 8}},
      "color": {"field": "s", "type": "nominal", "scale": {"domain": ["001b00-pneum, 6kA","201a02-serwo4, 6kA","prąd-pneum, 6kA","prąd-serwo4, -6kA"], "range": ["#3030c4","#2a2ab8","#ff2222","#e31b9c"]}, "legend": {"title": null, "legendX": -81, "legendY": 317, "columnPadding": 58}},
      "strokeDash": {"field": "s", "type": "nominal", "scale": {"domain": ["001b00-pneum, 6kA","201a02-serwo4, 6kA","prąd-pneum, 6kA","prąd-serwo4, -6kA"], "range": [[7,4],[1,0],[6,4],[1,0]]}, "legend": {"title": null, "legendX": -81, "legendY": 317, "columnPadding": 58}}}},
   {"layer": [
     {"data": {"name": "callouts"}, "transform": [{"filter": "datum.p === 'b'"}], "mark": {"type": "rule", "color": "#222", "strokeWidth": 1.2},
      "encoding": {"x": {"field": "bx", "type": "quantitative", "scale": {"domain": [0,100], "nice": false, "zero": false}}, "y": {"field": "by", "type": "quantitative", "scale": {"domain": [0,3], "nice": false, "zero": false}, "axis": null}, "x2": {"field": "tx"}, "y2": {"field": "ty"}}},
     {"data": {"name": "callouts"}, "transform": [{"filter": "datum.p === 'b'"}, {"calculate": "atan2((datum.tx - datum.bx) * 4.92, (datum.ty - datum.by) * 90.33) * 180 / PI", "as": "ang"}], "mark": {"type": "point", "shape": "M0,0L0.4,1.5L-0.4,1.5Z", "size": 200, "filled": true, "color": "#111", "opacity": 1},
      "encoding": {"x": {"field": "tx", "type": "quantitative", "scale": {"domain": [0,100], "nice": false, "zero": false}}, "y": {"field": "ty", "type": "quantitative", "scale": {"domain": [0,3], "nice": false, "zero": false}, "axis": null}, "angle": {"field": "ang", "type": "quantitative", "scale": null}}},
     {"data": {"name": "callouts"}, "transform": [{"filter": "datum.p === 'b'"}], "mark": {"type": "point", "shape": "square", "size": 420, "filled": true, "fill": "#c4c4c4", "stroke": "#444", "strokeWidth": 1.2, "opacity": 1},
      "encoding": {"x": {"field": "bx", "type": "quantitative", "scale": {"domain": [0,100], "nice": false, "zero": false}}, "y": {"field": "by", "type": "quantitative", "scale": {"domain": [0,3], "nice": false, "zero": false}, "axis": null}}},
     {"data": {"name": "callouts"}, "transform": [{"filter": "datum.p === 'b'"}], "mark": {"type": "text", "fontSize": 12, "fontWeight": "bold", "color": "#111"},
      "encoding": {"x": {"field": "bx", "type": "quantitative", "scale": {"domain": [0,100], "nice": false, "zero": false}}, "y": {"field": "by", "type": "quantitative", "scale": {"domain": [0,3], "nice": false, "zero": false}, "axis": null}, "text": {"field": "n"}}},
     {"data": {"name": "dots"}, "mark": {"type": "point", "shape": "circle", "size": 230, "filled": true, "stroke": "#333", "strokeWidth": 1, "opacity": 1},
      "encoding": {"x": {"field": "t", "type": "quantitative", "scale": {"domain": [0,100], "nice": false, "zero": false}}, "y": {"field": "v", "type": "quantitative", "scale": {"domain": [0,3], "nice": false, "zero": false}, "axis": null},
        "fill": {"field": "k", "type": "nominal", "scale": {"domain": ["serwo","pneum"], "range": ["#ffff3a","#ff1414"]}, "legend": null}}},
     {"data": {"values": [{}]}, "mark": {"type": "text", "text": "①", "font": "DejaVu Sans", "fontSize": 17, "color": "#222", "clip": false},
      "encoding": {"x": {"datum": 72.7, "type": "quantitative", "scale": {"domain": [0,100], "nice": false, "zero": false}}, "y": {"datum": -0.28, "type": "quantitative", "scale": {"domain": [0,3], "nice": false, "zero": false}, "axis": null}}},
     {"data": {"values": [{}]}, "mark": {"type": "point", "shape": "square", "size": 1300, "filled": true, "fill": "#c8c8c8", "stroke": "#444", "strokeWidth": 1.5, "opacity": 1, "clip": false},
      "encoding": {"x": {"datum": -12.7, "type": "quantitative", "scale": {"domain": [0,100], "nice": false, "zero": false}}, "y": {"datum": 3.343, "type": "quantitative", "scale": {"domain": [0,3], "nice": false, "zero": false}, "axis": null}}},
     {"data": {"values": [{}]}, "mark": {"type": "text", "text": "b)", "fontSize": 18, "color": "#111", "clip": false},
      "encoding": {"x": {"datum": -12.7, "type": "quantitative", "scale": {"domain": [0,100], "nice": false, "zero": false}}, "y": {"datum": 3.343, "type": "quantitative", "scale": {"domain": [0,3], "nice": false, "zero": false}, "axis": null}}},
     {"data": {"values": [{}]}, "mark": {"type": "text", "text": "Weld nugget diameter", "fontSize": 21, "fontWeight": "bold", "color": "#111", "clip": false},
      "encoding": {"x": {"datum": 52.5, "type": "quantitative", "scale": {"domain": [0,100], "nice": false, "zero": false}}, "y": {"datum": 3.31, "type": "quantitative", "scale": {"domain": [0,3], "nice": false, "zero": false}, "axis": null}}}
   ]}
  ]
 },
 {
  "width": 492, "height": 271,
  "resolve": {"scale": {"y": "independent"}},
  "layer": [
   {"layer": [
     {"data": {"values": [{}]}, "mark": {"type": "rect", "fillOpacity": 0, "stroke": "#8c8c8c", "strokeWidth": 1.5, "clip": false},
      "encoding": {
        "x": {"datum": -19.1, "type": "quantitative", "scale": {"domain": [0,100], "nice": false, "zero": false},
              "axis": {"values": [0,10,20,30,40,50,60,70,80,90,100], "labelExpr": "datum.value % 20 === 0 ? datum.label : ''", "grid": true, "title": "time [ms]", "titleX": 473, "titleY": 57, "titleAlign": "center", "titleBaseline": "middle", "titleAngle": 0, "labelPadding": 7}},
        "x2": {"datum": 120.2},
        "y": {"datum": 1.457, "type": "quantitative", "scale": {"domain": [0,1.2], "nice": false, "zero": false},
              "axis": {"values": [0,0.2,0.4,0.6,0.8,1.0,1.2], "labelExpr": "replace(format(datum.value, '.1f'), '.', ',')", "grid": true, "title": "Penetration [mm]", "titleX": -60, "titleY": 135, "titleAngle": -90, "titleAlign": "center", "titleBaseline": "middle", "labelPadding": 3}},
        "y2": {"datum": -0.4916}}},
     {"data": {"name": "d"}, "mark": {"type": "line", "strokeWidth": 2.2, "interpolate": "monotone", "clip": false},
      "encoding": {
        "x": {"field": "t", "type": "quantitative", "scale": {"domain": [0,100], "nice": false, "zero": false}},
        "y": {"field": "v", "type": "quantitative", "scale": {"domain": [0,1.2], "nice": false, "zero": false}},
        "color": {"field": "s", "type": "nominal", "scale": {"domain": ["001b00-pneum, 6kA","201a02-serwo4, 6kA","prąd-pneum, 6kA","prąd-serwo4, -6kA"], "range": ["#3030c4","#2a2ab8","#ff2222","#e31b9c"]}, "legend": {"title": null, "legendX": -82, "legendY": 322, "columnPadding": 75}},
        "strokeDash": {"field": "s", "type": "nominal", "scale": {"domain": ["001b00-pneum, 6kA","201a02-serwo4, 6kA","prąd-pneum, 6kA","prąd-serwo4, -6kA"], "range": [[7,4],[1,0],[6,4],[1,0]]}, "legend": {"title": null, "legendX": -82, "legendY": 322, "columnPadding": 75}}}}
   ]},
   {"data": {"name": "cur"}, "mark": {"type": "line", "strokeWidth": 2.2, "clip": false},
    "encoding": {
      "x": {"field": "t", "type": "quantitative", "scale": {"domain": [0,100], "nice": false, "zero": false}},
      "y": {"field": "v", "type": "quantitative", "scale": {"domain": [0,12], "nice": false, "zero": false},
            "axis": {"orient": "right", "values": [0,2,4,6,8,10,12], "labelExpr": "replace(format(datum.value, '.1f'), '.', ',')", "grid": false, "title": "Current [A]", "titleX": 78, "titleY": 135, "titleAngle": -90, "titleAlign": "center", "titleBaseline": "middle", "labelPadding": 8}},
      "color": {"field": "s", "type": "nominal", "scale": {"domain": ["001b00-pneum, 6kA","201a02-serwo4, 6kA","prąd-pneum, 6kA","prąd-serwo4, -6kA"], "range": ["#3030c4","#2a2ab8","#ff2222","#e31b9c"]}, "legend": {"title": null, "legendX": -82, "legendY": 322, "columnPadding": 75}},
      "strokeDash": {"field": "s", "type": "nominal", "scale": {"domain": ["001b00-pneum, 6kA","201a02-serwo4, 6kA","prąd-pneum, 6kA","prąd-serwo4, -6kA"], "range": [[7,4],[1,0],[6,4],[1,0]]}, "legend": {"title": null, "legendX": -82, "legendY": 322, "columnPadding": 75}}}},
   {"layer": [
     {"data": {"name": "callouts"}, "transform": [{"filter": "datum.p === 'd'"}], "mark": {"type": "rule", "color": "#222", "strokeWidth": 1.2},
      "encoding": {"x": {"field": "bx", "type": "quantitative", "scale": {"domain": [0,100], "nice": false, "zero": false}}, "y": {"field": "by", "type": "quantitative", "scale": {"domain": [0,1.2], "nice": false, "zero": false}, "axis": null}, "x2": {"field": "tx"}, "y2": {"field": "ty"}}},
     {"data": {"name": "callouts"}, "transform": [{"filter": "datum.p === 'd'"}, {"calculate": "atan2((datum.tx - datum.bx) * 4.92, (datum.ty - datum.by) * 225.8) * 180 / PI", "as": "ang"}], "mark": {"type": "point", "shape": "M0,0L0.4,1.5L-0.4,1.5Z", "size": 200, "filled": true, "color": "#111", "opacity": 1},
      "encoding": {"x": {"field": "tx", "type": "quantitative", "scale": {"domain": [0,100], "nice": false, "zero": false}}, "y": {"field": "ty", "type": "quantitative", "scale": {"domain": [0,1.2], "nice": false, "zero": false}, "axis": null}, "angle": {"field": "ang", "type": "quantitative", "scale": null}}},
     {"data": {"name": "callouts"}, "transform": [{"filter": "datum.p === 'd'"}], "mark": {"type": "point", "shape": "square", "size": 420, "filled": true, "fill": "#c4c4c4", "stroke": "#444", "strokeWidth": 1.2, "opacity": 1},
      "encoding": {"x": {"field": "bx", "type": "quantitative", "scale": {"domain": [0,100], "nice": false, "zero": false}}, "y": {"field": "by", "type": "quantitative", "scale": {"domain": [0,1.2], "nice": false, "zero": false}, "axis": null}}},
     {"data": {"name": "callouts"}, "transform": [{"filter": "datum.p === 'd'"}], "mark": {"type": "text", "fontSize": 12, "fontWeight": "bold", "color": "#111"},
      "encoding": {"x": {"field": "bx", "type": "quantitative", "scale": {"domain": [0,100], "nice": false, "zero": false}}, "y": {"field": "by", "type": "quantitative", "scale": {"domain": [0,1.2], "nice": false, "zero": false}, "axis": null}, "text": {"field": "n"}}},
     {"data": {"values": [{}]}, "mark": {"type": "point", "shape": "square", "size": 1300, "filled": true, "fill": "#c8c8c8", "stroke": "#444", "strokeWidth": 1.5, "opacity": 1, "clip": false},
      "encoding": {"x": {"datum": -12.6, "type": "quantitative", "scale": {"domain": [0,100], "nice": false, "zero": false}}, "y": {"datum": 1.337, "type": "quantitative", "scale": {"domain": [0,1.2], "nice": false, "zero": false}, "axis": null}}},
     {"data": {"values": [{}]}, "mark": {"type": "text", "text": "d)", "fontSize": 18, "color": "#111", "clip": false},
      "encoding": {"x": {"datum": -12.6, "type": "quantitative", "scale": {"domain": [0,100], "nice": false, "zero": false}}, "y": {"datum": 1.337, "type": "quantitative", "scale": {"domain": [0,1.2], "nice": false, "zero": false}, "axis": null}}},
     {"data": {"values": [{}]}, "mark": {"type": "text", "text": "penetration depth", "fontSize": 21, "fontWeight": "bold", "color": "#111", "clip": false},
      "encoding": {"x": {"datum": 54, "type": "quantitative", "scale": {"domain": [0,100], "nice": false, "zero": false}}, "y": {"datum": 1.328, "type": "quantitative", "scale": {"domain": [0,1.2], "nice": false, "zero": false}, "axis": null}}}
   ]}
  ]
 }
]
}
